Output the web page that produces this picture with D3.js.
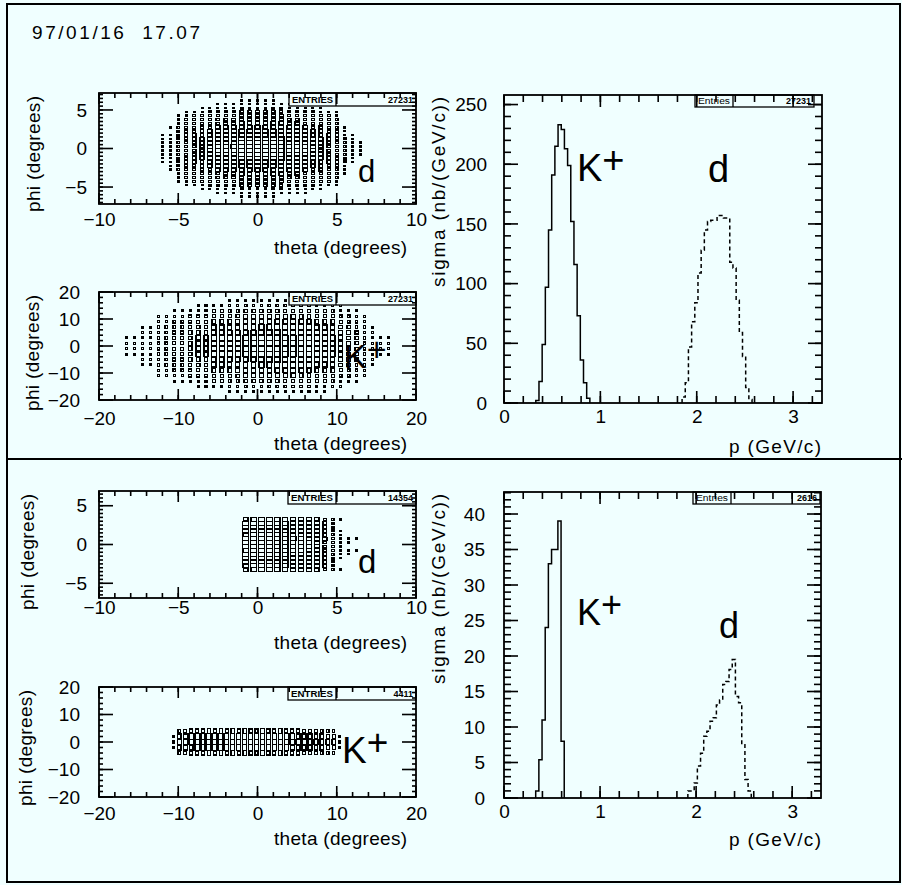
<!DOCTYPE html>
<html>
<head>
<meta charset="utf-8">
<script src="https://cdn.jsdelivr.net/npm/d3@7"></script>
<style>
  html, body { margin: 0; padding: 0; background: #f0ffff; }
  svg { display: block; }
</style>
</head>
<body>
<svg id="chart" width="902" height="885"></svg>
<script>
window.onerror = function (msg, src, line) {
  d3.select("#chart").append("text").attr("x", 12).attr("y", 878)
    .attr("font-size", 10).attr("fill", "red").text("error: " + msg + " @" + line);
};
</script>
<script>
// ---------------------------------------------------------------
// Run stamp
const dateStamp = "97/01/16  17.07";

// ---------------------------------------------------------------
// theta/phi box histograms. Each string is one theta bin; its digits are
// the cell contents (0-9 scale) from the top phi bin down to the bottom one.

// upper run, deuterons
const dTopTheta = [-6, -5.5, -5, -4.5, -4, -3.5, -3, -2.5, -2, -1.5, -1, -0.5, 0,
                   0.5, 1, 1.5, 2, 2.5, 3, 3.5, 4, 4.5, 5, 5.5, 6, 6.5];
const dTopPhi = [6.25, 5.75, 5.25, 4.75, 4.25, 3.75, 3.25, 2.75, 2.25, 1.75, 1.25, 0.75, 0.25,
                 -0.25, -0.75, -1.25, -1.75, -2.25, -2.75, -3.25, -3.75, -4.25, -4.75, -5.25, -5.75, -6.25];
const dTopCells = [
  "00000000011111111000000000",
  "00000001011111111110000000",
  "00001112222222222221110000",
  "00011222333333333322211000",
  "00012233344444444333221000",
  "00112334445555554443321100",
  "00122344556666665544322100",
  "01123445667777776654432110",
  "01123456778888887765432110",
  "01123456778898887765432110",
  "11234567889999998876543211",
  "11234567899999998876543211",
  "11234567889999999876543211",
  "11234567889999998876543211",
  "11234567889999998876543211",
  "01234567789999998776543210",
  "01123456778888887765432110",
  "01123456788888887765432110",
  "01123445667777776654432110",
  "00122344556666665544322100",
  "00112334445555554443321100",
  "00012233344444444333221000",
  "00011222333333333322211000",
  "00000001112222222111000000",
  "00000000011111111000000000",
  "00000000000111100000000000"
];

// upper run, kaons
const kTopTheta = [-16.5, -15.5, -14.5, -13.5, -12.5, -11.5, -10.5, -9.5, -8.5, -7.5, -6.5, -5.5,
                   -4.5, -3.5, -2.5, -1.5, -0.5, 0.5, 1.5, 2.5, 3.5, 4.5, 5.5, 6.5, 7.5, 8.5,
                   9.5, 10.5, 11.5, 12.5, 13.5, 14.5, 15.5, 16.5];
const kTopPhi = [19, 17, 15, 13, 11, 9, 7, 5, 3, 1, -1, -3, -5, -7, -9, -11, -13, -15, -17, -19];
const kTopCells = [
  "00000000111100000000",
  "00000000111100000000",
  "00000011111111000000",
  "00000011111111000000",
  "00001122222222110000",
  "00001122222222110000",
  "00011223333332211000",
  "00011223333332211000",
  "00012234444443221000",
  "00112344555544321100",
  "00112344555544321100",
  "00123455666655432100",
  "00123455666655432100",
  "01123456777765432110",
  "01123456777765432110",
  "01234567888876543210",
  "01234567888876543210",
  "01235678999987653210",
  "01235678999987653210",
  "01235678999987653210",
  "01235678999987653210",
  "01235678999987653210",
  "01234567888876543210",
  "01234567888876543210",
  "01123456777765432110",
  "01123456777765432110",
  "00123455666655432100",
  "00112344555544321100",
  "00012234444443221000",
  "00011223333332211000",
  "00001122222222110000",
  "00000011111111000000",
  "00000000111100000000",
  "00000000111100000000"
];

// lower run, deuterons
const dBotTheta = [-0.75, -0.25, 0.25, 0.75, 1.25, 1.75, 2.25, 2.75, 3.25, 3.75, 4.25, 4.75, 5.25, 5.75, 6.25];
const dBotPhi = [3.25, 2.75, 2.25, 1.75, 1.25, 0.75, 0.25, -0.25, -0.75, -1.25, -1.75, -2.25, -2.75, -3.25];
const dBotCells = [
  "79998999899987",
  "89999999999998",
  "99999999999999",
  "99999999999999",
  "89999999999998",
  "89999999999998",
  "78888988888887",
  "77888888888877",
  "67777787777776",
  "56666666666665",
  "34444544444443",
  "22222333322222",
  "10011111111001",
  "00000110110000",
  "00000100100000"
];

// lower run, kaons
const kBotTheta = [-10.625, -9.875, -9.125, -8.375, -7.625, -6.875, -6.125, -5.375, -4.625, -3.875,
                   -3.125, -2.375, -1.625, -0.875, -0.125, 0.625, 1.375, 2.125, 2.875, 3.625,
                   4.375, 5.125, 5.875, 6.625, 7.375, 8.125, 8.875, 9.625, 10.375];
const kBotPhi = [4, 2, 0, -2, -4];
const kBotCells = [
  "01110", "37873", "48984", "59985", "59995", "59995", "69996", "59995", "69996", "59995",
  "69996", "59995", "69996", "59995", "59995", "69996", "59995", "59995", "69996", "59995",
  "59985", "58985", "48984", "48884", "47874", "37773", "36763", "25652", "01110"
];

// ---------------------------------------------------------------
// Momentum spectra, sigma (nb/(GeV/c)) per 0.033 GeV/c bin
const pBinWidth = 0.033;
const kTopStart = 0.33;
const kTopSigma = [2, 18, 49, 97, 145, 191, 215, 233, 229, 213, 199, 152, 116, 73, 36, 17, 4];
const dTopStart = 1.848;
const dTopSigma = [5, 17, 47, 68, 84, 109, 128, 145, 152, 153, 153, 157, 157, 155, 155, 118, 113, 86, 59, 39, 13, 3];
const kBotStart = 0.33;
const kBotSigma = [1, 5.4, 11, 24, 33, 35, 35, 39, 8];
const dBotStart = 1.914;
const dBotSigma = [1, 1, 2.1, 4.5, 6.3, 8.7, 9.4, 10.8, 11.3, 13.1, 13.8, 16, 16.4, 18.1, 19.5, 14.3, 13.4, 7.5, 2.6, 1];

// Statistics boxes
const entriesTop = ["27231", "27231", "27231"];
const entriesBot = ["14354", "4411", "2616"];

// Tick values
const thetaTicksD = [-10, -5, 0, 5, 10];
const thetaTicksK = [-20, -10, 0, 10, 20];
const phiTicksD = [-5, 0, 5];
const phiTicksK = [-20, -10, 0, 10, 20];
const pTicks = [0, 1, 2, 3];
const sigmaTicksTop = [0, 50, 100, 150, 200, 250];
const sigmaTicksBot = [0, 5, 10, 15, 20, 25, 30, 35, 40];

// ---------------------------------------------------------------
const FONT = "'Liberation Sans', Arial, Helvetica, sans-serif";
const INK = "#000";
const BG = "#f0ffff";
const svg = d3.select("#chart");

svg.append("rect").attr("width", 902).attr("height", 885).attr("fill", BG);

// page frame and separator between the two runs
const page = svg.append("g").attr("fill", "none").attr("stroke", INK).attr("stroke-width", 2);
page.append("path").attr("d", "M7,4H900V882H7Z");
page.append("path").attr("d", "M7,459H902");

svg.append("text")
  .attr("x", 32).attr("y", 39)
  .attr("font-family", FONT).attr("font-size", 19)
  .attr("textLength", 168).attr("lengthAdjust", "spacing")
  .style("white-space", "pre")
  .text(dateStamp);

function stepRange(a, b, s) {
  const n = Math.round((b - a) / s);
  return d3.range(n + 1).map(i => +(a + i * s).toFixed(6));
}

// inward tick marks along one side of a frame, as thin filled bars
function tickBars(layer, x, y, vals, len, side) {
  const xl = +x.range()[0], xr = +x.range()[1];
  const yb = +y.range()[0], yt = +y.range()[1];
  const t = 1.6;
  const vertical = side === "bottom" || side === "top";
  layer.selectAll(null).data(vals).enter().append("rect")
    .attr("fill", INK)
    .attr("x", d => vertical ? x(d) - t / 2 : (side === "left" ? xl : xr - len))
    .attr("y", d => vertical ? (side === "bottom" ? yb - len : yt) : y(d) - t / 2)
    .attr("width", vertical ? t : len)
    .attr("height", vertical ? len : t);
}

function labelAxis(sel) {
  sel.select(".domain").remove();
  sel.selectAll(".tick line").remove();
  sel.attr("font-family", FONT).attr("font-size", 19);
  sel.selectAll("text").attr("fill", INK);
}

// Frame with inward ticks on all four sides; labels on bottom and left
function frameAxes(g, x, y, o) {
  const x0 = x.range()[0], x1 = x.range()[1];
  const y1 = y.range()[0], y0 = y.range()[1];
  const fmt = d3.format("~g");

  g.append("rect")
    .attr("x", x0).attr("y", y0).attr("width", x1 - x0).attr("height", y1 - y0)
    .attr("fill", "none").attr("stroke", INK).attr("stroke-width", 1.8);

  const layer = g.append("g");
  tickBars(layer, x, y, o.xMinor, 5 + (o.xMinLen - 5), "bottom");
  tickBars(layer, x, y, o.xMajor, o.xMajLen, "bottom");
  tickBars(layer, x, y, o.xMinor, o.xMinLen, "top");
  tickBars(layer, x, y, o.xMajor, o.xMajLen, "top");
  tickBars(layer, x, y, o.yMinor, o.yMinLen, "left");
  tickBars(layer, x, y, o.yMajor, o.yMajLen, "left");
  tickBars(layer, x, y, o.yMinor, o.yMinLen, "right");
  tickBars(layer, x, y, o.yMajor, o.yMajLen, "right");

  g.append("g").attr("transform", `translate(0,${y1})`)
    .call(d3.axisBottom(x).tickValues(o.xMajor).tickSize(0).tickPadding(o.xPad).tickFormat(fmt))
    .call(labelAxis);
  g.append("g").attr("transform", `translate(${x0},0)`)
    .call(d3.axisLeft(y).tickValues(o.yMajor).tickSize(0).tickPadding(o.yPad).tickFormat(fmt))
    .call(labelAxis);

  // axis titles, right / top aligned
  g.append("text")
    .attr("x", o.xTitleEnd).attr("y", o.xTitleBase)
    .attr("text-anchor", "end").attr("font-family", FONT).attr("font-size", 19)
    .attr("textLength", o.xTitleLen).attr("lengthAdjust", "spacing")
    .text(o.xTitle);
  g.append("text")
    .attr("transform", `translate(${o.yTitleBase},${o.yTitleEnd}) rotate(-90)`)
    .attr("text-anchor", "end").attr("font-family", FONT).attr("font-size", 19)
    .attr("textLength", o.yTitleLen).attr("lengthAdjust", "spacing")
    .text(o.yTitle);
}

function statsBox(g, bx0, bxDiv, bx1, by0, h, label, value, bold) {
  const b = g.append("g");
  b.append("rect").attr("x", bx0).attr("y", by0).attr("width", bx1 - bx0).attr("height", h)
    .attr("fill", BG).attr("stroke", INK).attr("stroke-width", 1.3);
  b.append("path").attr("d", `M${bxDiv},${by0}V${by0 + h}`)
    .attr("stroke", INK).attr("stroke-width", 1.3);
  b.append("text").attr("x", (bx0 + bxDiv) / 2).attr("y", by0 + h - 3)
    .attr("text-anchor", "middle").attr("font-family", FONT).attr("font-size", 8.5)
    .attr("font-weight", bold ? "bold" : "normal")
    .attr("textLength", bxDiv - bx0 - 6).attr("lengthAdjust", "spacingAndGlyphs")
    .text(label);
  b.append("text").attr("x", bx1 - 3).attr("y", by0 + h - 3)
    .attr("text-anchor", "end").attr("font-family", FONT).attr("font-size", 9)
    .attr("font-weight", "bold")
    .text(value);
}

function particleLabel(g, name, px, py, size) {
  g.append("text").attr("x", px).attr("y", py)
    .attr("font-family", FONT).attr("font-size", size).text(name);
  if (name === "K") {
    g.append("text").attr("x", px + 0.667 * size).attr("y", py - 0.22 * size)
      .attr("font-family", FONT).attr("font-size", size).text("+");
  }
}

// --- theta/phi box plot panel (box area proportional to cell content)
function boxPanel(o) {
  const g = svg.append("g");
  const x = d3.scaleLinear().domain(o.xDom).range([o.x0, o.x1]);
  const y = d3.scaleLinear().domain(o.yDom).range([o.y1, o.y0]);
  const cw = Math.abs(x(o.thetaWidth) - x(0));
  const ch = Math.abs(y(o.phiWidth) - y(0));

  const cells = [];
  o.cells.forEach((col, j) => {
    for (let i = 0; i < col.length; i++) {
      const v = +col[i];
      if (v > 0) cells.push({ t: o.thetas[j], p: o.phis[i], v });
    }
  });
  g.append("g").attr("shape-rendering", "crispEdges")
    .selectAll("rect").data(cells).join("rect")
    .each(function (d) {
      const s = Math.sqrt(d.v / 9);
      const w = Math.max(1, s * cw * 0.7);
      const h = Math.max(0.8, s * ch);
      d3.select(this)
        .attr("x", x(d.t) - w / 2).attr("y", y(d.p) - h / 2)
        .attr("width", w).attr("height", h);
    })
    .attr("fill", "none").attr("stroke", INK).attr("stroke-width", 1.2);

  statsBox(g, o.statX0, o.statDiv, o.x1, o.y0, 13, "ENTRIES", o.entries, true);

  frameAxes(g, x, y, {
    xMajor: o.xMajor, xMinor: o.xMinor, xMajLen: 11, xMinLen: 5, xPad: o.xPad,
    yMajor: o.yMajor, yMinor: o.yMinor, yMajLen: 14, yMinLen: 4, yPad: o.yPad,
    xTitle: "theta (degrees)", xTitleEnd: 407, xTitleBase: o.xTitleBase, xTitleLen: 133,
    yTitle: "phi (degrees)", yTitleBase: o.yTitleBase, yTitleEnd: o.y0 + 3, yTitleLen: 116
  });

  particleLabel(g, o.label, o.labelX, o.labelY, o.labelSize);
}

// --- momentum spectrum panel
function histPath(x, y, start, vals) {
  const pts = [[start, 0]];
  vals.forEach((v, i) => pts.push([start + i * pBinWidth, v]));
  pts.push([start + vals.length * pBinWidth, 0]);
  return d3.line().x(d => x(d[0])).y(d => y(d[1])).curve(d3.curveStepAfter)(pts);
}

function histPanel(o) {
  const g = svg.append("g");
  const x = d3.scaleLinear().domain([0, 3.3]).range([o.x0, o.x1]);
  const y = d3.scaleLinear().domain([0, o.yMax]).range([o.y1, o.y0]);

  g.append("path").attr("d", histPath(x, y, o.kStart, o.kVals))
    .attr("fill", "none").attr("stroke", INK).attr("stroke-width", 1.5);
  g.append("path").attr("d", histPath(x, y, o.dStart, o.dVals))
    .attr("fill", "none").attr("stroke", INK).attr("stroke-width", 1.5)
    .attr("stroke-dasharray", "4,3");

  statsBox(g, o.statX0, o.statDiv, o.statX1, o.y0, 12, "Entries", o.entries, false);

  frameAxes(g, x, y, {
    xMajor: pTicks, xMinor: stepRange(0, 3.2, 0.2), xMajLen: 12, xMinLen: 7, xPad: 7,
    yMajor: o.yMajor, yMinor: o.yMinor, yMajLen: 14, yMinLen: 7, yPad: o.yPad,
    xTitle: "p (GeV/c)", xTitleEnd: 821, xTitleBase: o.xTitleBase, xTitleLen: 92,
    yTitle: "sigma (nb/(GeV/c))", yTitleBase: 445, yTitleEnd: o.y0 + 2, yTitleLen: 190
  });

  particleLabel(g, "K", o.kLabel[0], o.kLabel[1], o.kLabel[2]);
  particleLabel(g, "d", o.dLabel[0], o.dLabel[1], o.dLabel[2]);
}

// ---------------------------------------------------------------
// upper run
boxPanel({
  x0: 99, x1: 416, y0: 93, y1: 204, xDom: [-10, 10], yDom: [-7.2, 7.2],
  thetas: dTopTheta, phis: dTopPhi, cells: dTopCells, thetaWidth: 0.5, phiWidth: 0.5,
  xMajor: thetaTicksD, xMinor: stepRange(-10, 10, 1),
  yMajor: phiTicksD, yMinor: stepRange(-7, 7, 0.5),
  xPad: 9, yPad: 12, xTitleBase: 254, yTitleBase: 40,
  statX0: 289, statDiv: 336, entries: entriesTop[0],
  label: "d", labelX: 358, labelY: 182, labelSize: 31
});
boxPanel({
  x0: 99, x1: 416, y0: 292, y1: 400, xDom: [-20, 20], yDom: [-20, 20],
  thetas: kTopTheta, phis: kTopPhi, cells: kTopCells, thetaWidth: 1, phiWidth: 2,
  xMajor: thetaTicksK, xMinor: stepRange(-20, 20, 2),
  yMajor: phiTicksK, yMinor: stepRange(-20, 20, 2),
  xPad: 12, yPad: 19, xTitleBase: 450, yTitleBase: 39,
  statX0: 289, statDiv: 336, entries: entriesTop[1],
  label: "K", labelX: 344, labelY: 368, labelSize: 34
});
histPanel({
  x0: 504, x1: 822, y0: 95, y1: 403, yMax: 258,
  kStart: kTopStart, kVals: kTopSigma, dStart: dTopStart, dVals: dTopSigma,
  yMajor: sigmaTicksTop, yMinor: stepRange(0, 250, 10), yPad: 17,
  xTitleBase: 453, statX0: 695, statDiv: 733, statX1: 814, entries: entriesTop[2],
  kLabel: [577, 181, 38], dLabel: [708, 182, 38]
});

// lower run
boxPanel({
  x0: 99, x1: 416, y0: 491, y1: 598, xDom: [-10, 10], yDom: [-6.9, 6.9],
  thetas: dBotTheta, phis: dBotPhi, cells: dBotCells, thetaWidth: 0.5, phiWidth: 0.5,
  xMajor: thetaTicksD, xMinor: stepRange(-10, 10, 1),
  yMajor: phiTicksD, yMinor: stepRange(-6.5, 6.5, 0.5),
  xPad: 2, yPad: 12, xTitleBase: 649, yTitleBase: 34,
  statX0: 288, statDiv: 336, entries: entriesBot[0],
  label: "d", labelX: 358, labelY: 573, labelSize: 33
});
boxPanel({
  x0: 99, x1: 416, y0: 687, y1: 797, xDom: [-20, 20], yDom: [-20, 20],
  thetas: kBotTheta, phis: kBotPhi, cells: kBotCells, thetaWidth: 0.75, phiWidth: 2,
  xMajor: thetaTicksK, xMinor: stepRange(-20, 20, 2),
  yMajor: phiTicksK, yMinor: stepRange(-20, 20, 2),
  xPad: 10, yPad: 19, xTitleBase: 845, yTitleBase: 32,
  statX0: 288, statDiv: 336, entries: entriesBot[1],
  label: "K", labelX: 342, labelY: 763, labelSize: 37
});
histPanel({
  x0: 504, x1: 821, y0: 492, y1: 798, yMax: 43.1,
  kStart: kBotStart, kVals: kBotSigma, dStart: dBotStart, dVals: dBotSigma,
  yMajor: sigmaTicksBot, yMinor: stepRange(0, 43, 1), yPad: 19,
  xTitleBase: 846, statX0: 693, statDiv: 731, statX1: 820, entries: entriesBot[2],
  kLabel: [577, 625, 36], dLabel: [719, 638, 36]
});
</script>
</body>
</html>
